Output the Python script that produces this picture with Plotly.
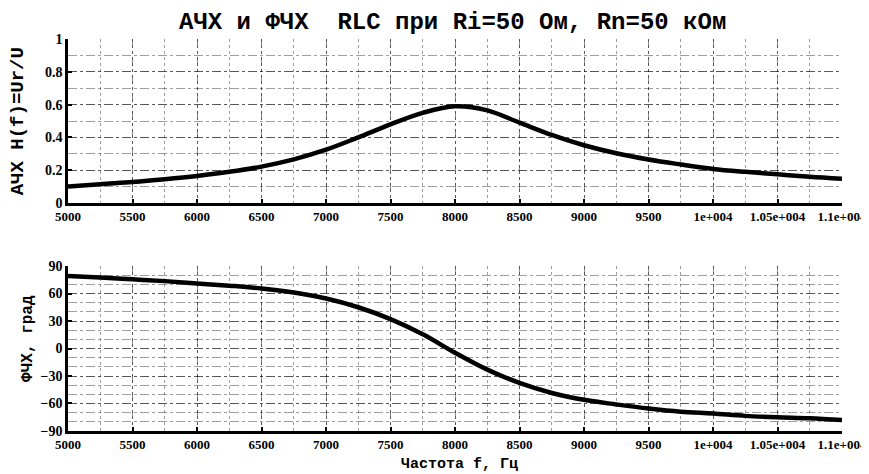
import plotly.graph_objects as go

# Frequency, Hz
freq = [5000, 5250, 5500, 5750, 6000, 6250, 6500, 6750, 7000, 7250, 7500, 7750,
        8000, 8250, 8500, 8750, 9000, 9250, 9500, 9750, 10000, 10250, 10500, 10750, 11000]
# АЧХ H(f)=Ur/U
amp = [0.10, 0.115, 0.128, 0.145, 0.165, 0.19, 0.222, 0.266, 0.325, 0.40, 0.48, 0.55,
       0.59, 0.565, 0.49, 0.415, 0.352, 0.303, 0.265, 0.235, 0.208, 0.19, 0.175, 0.16, 0.148]
# ФЧХ, град
phase = [79, 77.5, 75.5, 73.5, 71, 68.5, 65.5, 61, 54.5, 45, 32, 15.5,
         -4.6, -23, -37.5, -48.5, -56, -61, -65.5, -69, -71, -73.5, -75, -76, -78]

x_tickvals = [5000, 5500, 6000, 6500, 7000, 7500, 8000, 8500, 9000, 9500, 10000, 10500, 11000]
x_ticktext = ["5000", "5500", "6000", "6500", "7000", "7500", "8000", "8500", "9000", "9500",
              "1e+004", "1.05e+004", "1.1e+004"]
amp_ticks = [0, 0.2, 0.4, 0.6, 0.8, 1]
amp_ticktext = ["0", "0.2", "0.4", "0.6", "0.8", "1"]
phase_ticks = [-90, -60, -30, 0, 30, 60, 90]

fig = go.Figure()
fig.add_trace(go.Scatter(x=freq, y=amp, mode="lines",
                         line=dict(color="black", width=4.5, shape="spline", smoothing=1),
                         xaxis="x", yaxis="y", showlegend=False))
fig.add_trace(go.Scatter(x=freq, y=phase, mode="lines",
                         line=dict(color="black", width=4.5, shape="spline", smoothing=1),
                         xaxis="x2", yaxis="y2", showlegend=False))

xtickfont = dict(family="Liberation Serif", size=13, color="black", weight=700)
ytickfont = dict(family="Liberation Serif", size=14, color="black", weight=700)
gridstyle = dict(showgrid=True, gridcolor="rgba(0,0,0,0.45)", griddash="dashdot", gridwidth=1)
minor_grid_color = "rgba(0,0,0,0.38)"

common_x = dict(range=[5000, 11000], tickvals=x_tickvals, ticktext=x_ticktext, tickfont=xtickfont,
                showline=True, linecolor="black", linewidth=2.5, ticks="inside", ticklen=4,
                tickwidth=2, tickcolor="black", zeroline=False, automargin=False,
                minor=dict(dtick=250, tick0=5000, showgrid=True, gridcolor=minor_grid_color,
                           griddash="dot", ticks=""),
                **gridstyle)

common_y = dict(tickfont=ytickfont, showline=True, linecolor="black", linewidth=2.5,
                ticks="inside", ticklen=4, tickwidth=2, tickcolor="black", zeroline=False,
                automargin=False, **gridstyle)

fig.update_layout(
    width=869, height=474,
    margin=dict(l=60, r=35, t=31, b=51),
    paper_bgcolor="white", plot_bgcolor="white",
    xaxis=dict(domain=[0, 1], anchor="y", **common_x),
    xaxis2=dict(domain=[0, 1], anchor="y2", **common_x),
    yaxis=dict(domain=[0.5816, 1], range=[0, 1], tickvals=amp_ticks, ticktext=amp_ticktext,
               minor=dict(dtick=0.1, tick0=0, showgrid=True, gridcolor=minor_grid_color,
                          griddash="dashdot", ticks=""),
               **common_y),
    yaxis2=dict(domain=[0, 0.4209], range=[-90, 90], tickvals=phase_ticks,
                minor=dict(dtick=10, tick0=0, showgrid=True, gridcolor=minor_grid_color,
                           griddash="dashdot", ticks=""),
                **common_y),
    annotations=[
        dict(text="АЧХ и ФЧХ  RLC при Ri=50 Ом, Rn=50 кОм", xref="paper", yref="paper",
             x=0.497, y=1, yshift=17, xanchor="center", yanchor="middle", showarrow=False,
             font=dict(family="Liberation Mono", size=24, color="black", weight="bold")),
        dict(text="АЧХ H(f)=Ur/U", xref="paper", yref="paper", x=0, xshift=-50,
             y=0.79, xanchor="center", yanchor="middle", textangle=-90, showarrow=False,
             font=dict(family="Liberation Mono", size=19, color="black", weight="bold")),
        dict(text="ФЧХ, град", xref="paper", yref="paper", x=0, xshift=-40,
             y=0.235, xanchor="center", yanchor="middle", textangle=-90, showarrow=False,
             font=dict(family="Liberation Mono", size=16, color="black", weight="bold")),
        dict(text="Частота f, Гц", xref="paper", yref="paper", x=0.506, y=0, yshift=-33,
             xanchor="center", yanchor="middle", showarrow=False,
             font=dict(family="Liberation Mono", size=15, color="black", weight="bold")),
    ],
)

fig.write_html("out.html")
